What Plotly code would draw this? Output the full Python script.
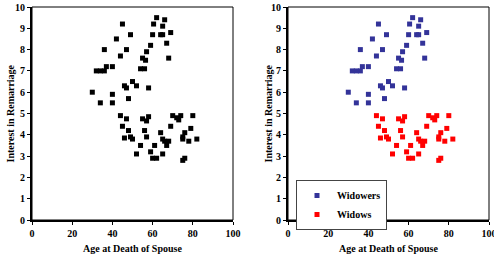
import plotly.graph_objects as go
from plotly.subplots import make_subplots

widowers_age = [30, 34, 32, 34, 36, 37, 36, 40, 40, 40, 42, 45, 44, 46, 47, 47, 49, 48, 50, 52,
                54, 56, 55, 56.5, 57, 58, 59, 60, 60.5, 62, 64, 65, 65, 66, 67, 68, 69]
widowers_interest = [6.0, 5.5, 7.0, 7.0, 7.0, 7.2, 8.0, 7.2, 5.9, 5.5, 8.5, 9.2, 7.7, 6.3, 6.2, 8.0, 8.7, 5.7, 6.5, 6.3,
                     7.1, 7.1, 7.6, 7.5, 7.9, 6.2, 8.2, 8.7, 9.2, 9.5, 8.7, 8.7, 9.1, 9.4, 8.3, 7.6, 8.8]

widows_age = [44, 47, 45, 48, 46, 49, 50, 55, 57, 58, 56, 57, 54, 52, 59, 60, 62, 61, 64,
              65, 66, 68, 67, 65, 70, 72, 73, 74, 80, 69, 79, 75, 75, 76, 78, 82, 75, 76]
widows_interest = [4.9, 4.75, 4.4, 4.2, 3.85, 3.9, 3.8, 4.75, 4.65, 4.85, 4.2, 3.9, 3.5, 3.1, 3.2, 2.9, 2.9, 3.5, 4.1,
                   3.8, 3.7, 3.7, 3.5, 3.1, 4.9, 4.8, 4.7, 4.9, 4.9, 4.4, 4.3, 3.9, 3.8, 4.1, 3.7, 3.8, 2.8, 2.9]

x_ticks = [0, 20, 40, 60, 80, 100]
y_ticks = [0, 1, 2, 3, 4, 5, 6, 7, 8, 9, 10]

FONT = "Liberation Serif"

W, H = 494, 261


def px(v):
    return min(max(v / W, 0), 1)


def py(v):
    return min(max(1 - v / H, 0), 1)


fig = make_subplots(rows=1, cols=2)

# Left panel: all points in black
fig.add_trace(go.Scatter(x=widowers_age + widows_age, y=widowers_interest + widows_interest,
                         mode="markers", showlegend=False,
                         marker=dict(symbol="square", size=5, color="black")), row=1, col=1)

# Right panel: coloured by group
fig.add_trace(go.Scatter(x=widowers_age, y=widowers_interest, mode="markers", name="Widowers",
                         marker=dict(symbol="square", size=5, color="#333399")), row=1, col=2)
fig.add_trace(go.Scatter(x=widows_age, y=widows_interest, mode="markers", name="Widows",
                         marker=dict(symbol="square", size=5, color="#ff0000")), row=1, col=2)

xd1 = [px(32), px(233)]
xd2 = [px(288), px(489)]
yd = [py(220), py(7)]

axis_common = dict(showgrid=False, zeroline=False, showline=True, linecolor="black", linewidth=2,
                   ticks="outside", ticklen=3, tickwidth=1, tickcolor="black",
                   tickfont=dict(family=FONT, size=10, color="black", weight="bold"),
                   ticklabeloverflow="allow", automargin=False)

fig.update_xaxes(range=[0, 100], tickvals=x_ticks, **axis_common)
fig.update_yaxes(range=[0, 10], tickvals=y_ticks, **axis_common)
fig.update_layout(
    xaxis=dict(domain=xd1), xaxis2=dict(domain=xd2),
    yaxis=dict(domain=yd), yaxis2=dict(domain=yd),
)

# thin box border around each plot area
for xr, yr in [("x domain", "y domain"), ("x2 domain", "y2 domain")]:
    fig.add_shape(type="rect", xref=xr, yref=yr, x0=0, x1=1, y0=0, y1=1,
                  line=dict(color="black", width=1), layer="above")

title_font = dict(family=FONT, size=10, color="black", weight="bold")
for xc, xt in [((xd1[0] + xd1[1]) / 2, px(10)), ((xd2[0] + xd2[1]) / 2, px(268))]:
    fig.add_annotation(text="Age at Death of Spouse", x=xc, y=py(249), xref="paper", yref="paper",
                       showarrow=False, font=title_font, xanchor="center", yanchor="middle")
    fig.add_annotation(text="Interest in Remarriage", x=xt, y=(yd[0] + yd[1]) / 2, xref="paper", yref="paper",
                       showarrow=False, font=title_font, textangle=-90, xanchor="center", yanchor="middle")

fig.update_layout(
    width=W, height=H, margin=dict(l=0, r=0, t=0, b=0),
    plot_bgcolor="white", paper_bgcolor="white",
    legend=dict(x=px(296), y=py(180), xref="paper", yref="paper", xanchor="left", yanchor="top",
                bordercolor="#444444", borderwidth=1, bgcolor="white",
                font=dict(family=FONT, size=10, color="black", weight="bold"),
                itemwidth=30, tracegroupgap=0),
)

fig.write_html("out.html", config={"displayModeBar": False},
               post_script="document.body.style.margin='0';document.body.style.overflow='hidden';")
